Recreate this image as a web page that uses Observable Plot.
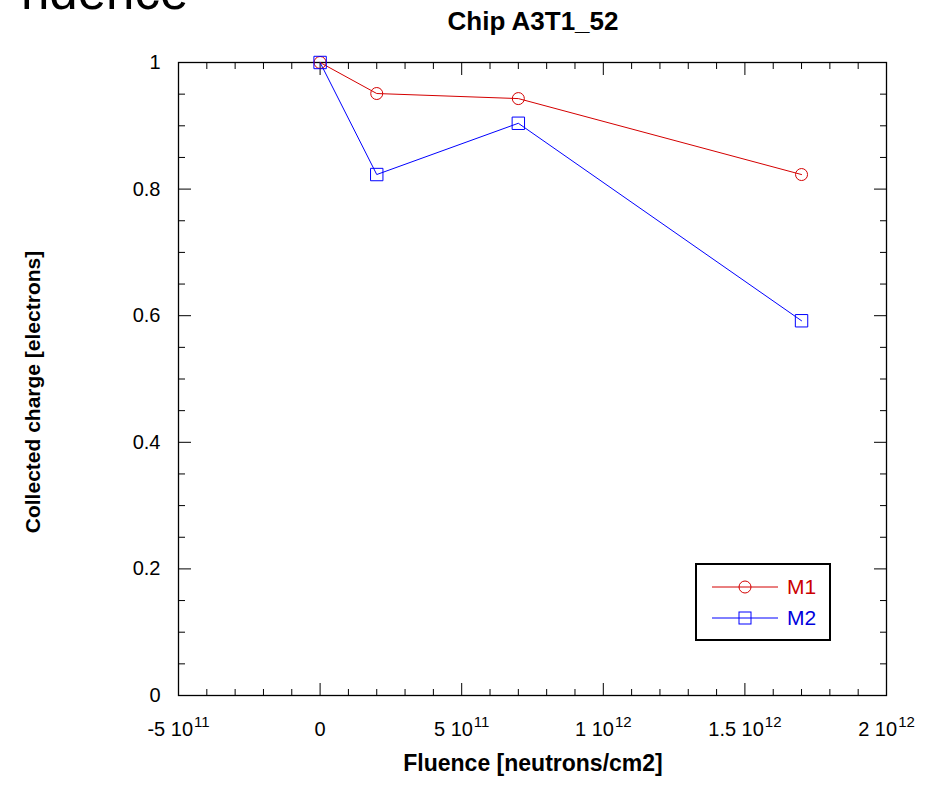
<!DOCTYPE html>
<html><head><meta charset="utf-8">
<script src="https://cdn.jsdelivr.net/npm/d3@7"></script>
<script src="https://cdn.jsdelivr.net/npm/@observablehq/plot@0.6"></script>
<style>
body{margin:0;background:#fff;font-family:"Liberation Sans",Arial,sans-serif}
#wrap{position:relative;width:938px;height:804px;overflow:hidden}
#wrap svg{position:absolute;left:0;top:0}
</style></head><body><div id="wrap"></div>
<script>
// data
const fluence = [0, 2e11, 7e11, 1.7e12];
const m1 = [1, 0.951, 0.943, 0.823];
const m2 = [1, 0.823, 0.904, 0.592];
const seriesNames = ["M1", "M2"];
const seriesColors = ["#d40000", "#0000ff"];
// ticks
const xMajor = [-5e11, 0, 5e11, 1e12, 1.5e12, 2e12];
const xLabelBase = ["-5 10", "0", "5 10", "1 10", "1.5 10", "2 10"];
const xLabelExp = ["11", "", "11", "12", "12", "12"];
const xMinor = [-4e11,-3e11,-2e11,-1e11,1e11,2e11,3e11,4e11,6e11,7e11,8e11,9e11,1.1e12,1.2e12,1.3e12,1.4e12,1.6e12,1.7e12,1.8e12,1.9e12];
const yMajor = [0, 0.2, 0.4, 0.6, 0.8, 1];
const yLabels = ["0", "0.2", "0.4", "0.6", "0.8", "1"];
const yMinor = [0.05,0.1,0.15,0.25,0.3,0.35,0.45,0.5,0.55,0.65,0.7,0.75,0.85,0.9,0.95];

const rows = fluence.map((f, i) => ({f, m1: m1[i], m2: m2[i]}));
const blank = () => "";
const ax = (opts) => ({label: null, stroke: "#000", ...opts});

const plot = Plot.plot({
  width: 938, height: 804,
  marginLeft: 178, marginRight: 52, marginTop: 62, marginBottom: 109,
  x: {domain: [-5e11, 2e12]},
  y: {domain: [0, 1]},
  style: {fontFamily: "'Liberation Sans', Arial, sans-serif", fontSize: "20px", color: "#000", background: "transparent"},
  marks: [
    Plot.frame({stroke: "#000", strokeWidth: 1.3}),
    Plot.axisX(xMinor, ax({anchor: "bottom", tickSize: -6, tickFormat: blank})),
    Plot.axisX(xMinor, ax({anchor: "top", tickSize: -6, tickFormat: blank})),
    Plot.axisX(xMajor, ax({anchor: "top", tickSize: -12, tickFormat: blank})),
    Plot.axisX(xMajor, ax({anchor: "bottom", tickSize: -12, tickFormat: blank})),
    Plot.axisX(xMajor, ax({anchor: "bottom", tickSize: 0, tickPadding: 26, tickFormat: (d) => "XL" + xMajor.indexOf(d)})),
    Plot.axisY(yMinor, ax({anchor: "left", tickSize: -7, tickFormat: blank})),
    Plot.axisY(yMinor, ax({anchor: "right", tickSize: -7, tickFormat: blank})),
    Plot.axisY(yMajor, ax({anchor: "left", tickSize: -13, tickFormat: blank})),
    Plot.axisY(yMajor, ax({anchor: "right", tickSize: -13, tickFormat: blank})),
    Plot.axisY(yMajor, ax({anchor: "left", tickSize: 0, tickPadding: 18, tickFormat: (d) => "YL" + yMajor.indexOf(d)})),
    Plot.line(rows, {x: "f", y: "m1", stroke: seriesColors[0], strokeWidth: 1}),
    Plot.line(rows, {x: "f", y: "m2", stroke: seriesColors[1], strokeWidth: 1}),
    Plot.dot(rows, {x: "f", y: "m1", symbol: "circle", r: 6, stroke: seriesColors[0], fill: "none", strokeWidth: 1}),
    Plot.dot(rows, {x: "f", y: "m2", symbol: "square", r: 7, stroke: seriesColors[1], fill: "none", strokeWidth: 1})
  ]
});

// tick labels: real text, x labels with superscript exponents
d3.select(plot).selectAll("text").each(function() {
  const t = this.textContent;
  const sel = d3.select(this);
  if (t.startsWith("XL")) {
    const i = +t.slice(2);
    sel.text(null).attr("font-size", "20px");
    sel.append("tspan").text(xLabelBase[i]);
    if (xLabelExp[i]) sel.append("tspan").attr("dx", "1").attr("dy", "-0.6em").attr("font-size", "15px").text(xLabelExp[i]);
  } else if (t.startsWith("YL")) {
    sel.text(yLabels[+t.slice(2)]).attr("font-size", "20px");
  }
});

const wrap = document.getElementById("wrap");
wrap.appendChild(plot);

// overlay: titles, axis names, legend
const ov = d3.select(wrap).append("svg").attr("width", 938).attr("height", 804)
  .style("font-family", "'Liberation Sans', Arial, sans-serif");
ov.append("text").attr("x", 21).attr("y", 9).attr("font-size", 51).text("ndence");
ov.append("text").attr("x", 533).attr("y", 30).attr("text-anchor", "middle").attr("font-size", 26).attr("font-weight", "bold").text("Chip A3T1_52");
ov.append("text").attr("x", 533).attr("y", 771).attr("text-anchor", "middle").attr("font-size", 23).attr("font-weight", "bold").text("Fluence [neutrons/cm2]");
ov.append("text").attr("transform", "translate(40,392) rotate(-90)").attr("text-anchor", "middle").attr("font-size", 21).attr("font-weight", "bold").text("Collected charge [electrons]");

const lg = ov.append("g");
lg.append("rect").attr("x", 696).attr("y", 564).attr("width", 134).attr("height", 76).attr("fill", "#fff").attr("stroke", "#000").attr("stroke-width", 2);
seriesNames.forEach((name, i) => {
  const yy = 587 + i * 31;
  lg.append("line").attr("x1", 712).attr("x2", 778).attr("y1", yy).attr("y2", yy).attr("stroke", seriesColors[i]);
  if (i === 0) lg.append("circle").attr("cx", 745).attr("cy", yy).attr("r", 6).attr("fill", "none").attr("stroke", seriesColors[i]);
  else lg.append("rect").attr("x", 739).attr("y", yy - 6).attr("width", 12).attr("height", 12).attr("fill", "none").attr("stroke", seriesColors[i]);
  lg.append("text").attr("x", 787).attr("y", yy + 7).attr("font-size", 21).attr("fill", i === 0 ? "#cc0000" : "#0000dd").text(name);
});
</script></body></html>
